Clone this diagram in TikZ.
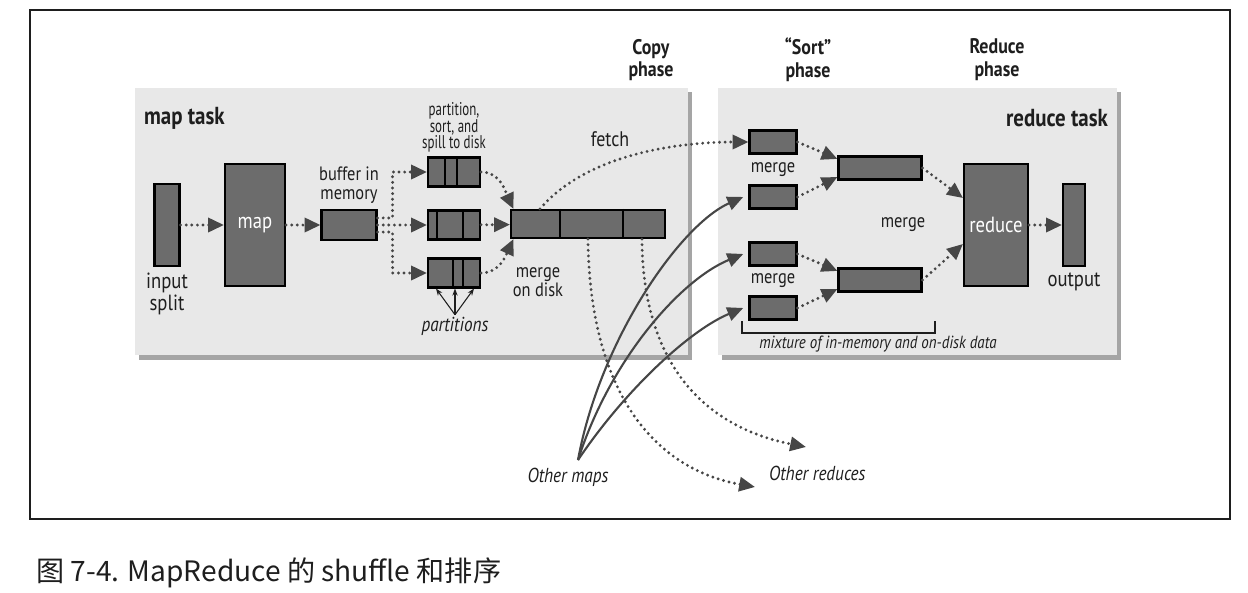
\documentclass[tikz,border=0pt]{standalone}
\usepackage{fontspec}
\setmainfont{PT Sans}[FakeStretch=0.85]
\newfontfamily\cjk{Noto Sans CJK SC}
\usepackage{xcolor}
\usetikzlibrary{positioning,arrows.meta}

\definecolor{ink}{RGB}{30,30,30}
\definecolor{boxgray}{RGB}{108,108,108}
\definecolor{linegray}{RGB}{70,70,70}
\definecolor{panelgray}{RGB}{232,232,232}
\definecolor{shadowgray}{RGB}{165,165,165}

\begin{document}
\begin{tikzpicture}[
    x=0.02cm, y=-0.02cm,
    blk/.style 2 args={
      draw=black, line width=1.2pt, fill=boxgray,
      minimum width=#1*0.2mm, minimum height=#2*0.2mm, inner sep=0pt
    },
    txt/.style={font=\fontsize{11}{11}\selectfont, text=ink, align=center, inner sep=1pt},
    big/.style={font=\fontsize{12.5}{12.5}\selectfont},
    ital/.style={font=\fontsize{11.5}{11.5}\selectfont\itshape},
    head/.style={font=\fontsize{12}{13}\selectfont\bfseries, text=ink, align=center, inner sep=1pt},
    dots/.style={
      draw=linegray, line width=1.8pt, dash pattern=on 0pt off 3.2pt, line cap=round,
      -{Triangle[length=9pt,width=8pt]}
    },
    feed/.style={draw=linegray, line width=1.2pt, -{Triangle[length=9pt,width=8pt]}},
    tip/.style={draw=ink, line width=0.6pt, -{Stealth[length=4pt,width=3pt]}}
]

  \useasboundingbox (0,0) rectangle (1248,592);

  % frame and the two task panels
  \draw[ink, line width=1.2pt] (30,10) rectangle (1230,519);
  \fill[shadowgray] (139,92) rectangle (692,360);
  \fill[panelgray] (135,88) rectangle (688,355);
  \fill[shadowgray] (722,92) rectangle (1121,360);
  \fill[panelgray] (718,88) rectangle (1117,355);

  % phase headings
  \node[head] (copyh) at (651,60) {Copy\\phase};
  \node[head] (sorth) at (808,60) {“Sort”\\phase};
  \node[head] (redh) at (997,60) {Reduce\\phase};
  \node[head, font=\fontsize{14}{15}\selectfont\bfseries, anchor=west] (maptask) at (142,118) {map task};
  \node[head, font=\fontsize{14}{15}\selectfont\bfseries, anchor=east] (redtask) at (1110,118) {reduce task};

  % map side
  \node[blk={25}{82}] (inp) at (167,225) {};
  \node[txt, big, below=2pt of inp] (inpl) {input\\split};
  \node[blk={60}{122}, text=white, big] (map) at (255,225) {map};
  \node[blk={55}{30}] (buf) at (349,225) {};
  \node[txt, above=2pt of buf] (bufl) {buffer in\\memory};

  \foreach \y [count=\i] in {172,225,273}
    \node[blk={52}{29}] (s\i) at (454,\y) {};
  \foreach \n/\x in {1/445,1/457,2/437,2/463,3/453,3/463}
    \draw[line width=1.2pt] (\x,0 |- s\n.north) -- (\x,0 |- s\n.south);
  \node[txt, font=\fontsize{10.5}{9.6}\selectfont\addfontfeatures{FakeStretch=0.7}, above=1pt of s1] (spilll) {partition,\\sort, and\\spill to disk};

  \node[txt, ital] (parts) at (455,326) {partitions};
  \foreach \x in {436,455,474}
    \draw[tip] (parts.north) -- (\x,0 |- s3.south);

  \node[blk={154}{28}] (mrg) at (588,224) {};
  \foreach \x in {560,623}
    \draw[line width=1.2pt] (\x,0 |- mrg.north) -- (\x,0 |- mrg.south);
  \node[txt] (mrgl) at (538,282) {merge\\on disk};
  \node[txt, font=\fontsize{12}{12}\selectfont] (fetchl) at (610,139) {fetch};

  % reduce side
  \foreach \y [count=\i] in {142,197,254,308}
    \node[blk={47}{23}] (r\i) at (773,\y) {};
  \node[txt] (mg1) at (773,170) {merge};
  \node[txt] (mg2) at (773,281) {merge};
  \node[blk={83}{23}] (m1) at (880,168) {};
  \node[blk={83}{23}] (m2) at (880,280) {};
  \node[txt] (mg3) at (903,225) {merge};
  \node[blk={64}{122}, text=white, big] (red) at (996,225) {reduce};
  \node[blk={22}{82}] (out) at (1074,225) {};
  \node[txt, big, below=2pt of out] (outl) {output};

  \draw[ink, line width=0.6pt] (742,321) -- (742,333) -- (935,333) -- (935,321);
  \node[txt, font=\fontsize{10}{10}\selectfont\itshape] (mix) at (878,344) {mixture of in-memory and on-disk data};

  % other tasks
  \coordinate (om) at (578,460);
  \node[txt, ital] (oml) at (568,477) {Other maps};
  \coordinate (or1) at (755,487);
  \coordinate (or2) at (806,447);
  \node[txt, ital, anchor=west] (orl) at (767,473) {Other reduces};

  % connections on the map side
  \draw[dots] (inp) -- (map);
  \draw[dots] (map) -- (buf);
  \draw[dots] (buf) -- (s2);
  \draw[dots] ([yshift=4pt]buf.east) -- ++(15,0) |- (s1.west);
  \draw[dots] ([yshift=-4pt]buf.east) -- ++(15,0) |- (s3.west);
  \draw[dots] (s1.east) to[out=0,in=115] ([xshift=2pt]mrg.north west);
  \draw[dots] (s2) -- (mrg);
  \draw[dots] (s3.east) to[out=0,in=-115] ([xshift=2pt]mrg.south west);

  % fetch and the copies to other reduces
  \draw[dots] ([xshift=30*0.2mm]mrg.north west) .. controls (590,150) and (690,142) .. (r1.west);
  \draw[dots] ([xshift=78*0.2mm]mrg.south west) .. controls (590,400) and (660,470) .. (or1);
  \draw[dots] ([xshift=132*0.2mm]mrg.south west) .. controls (643,380) and (720,430) .. (or2);

  % connections from other maps
  \draw[feed] (om) .. controls (600,340) and (680,225) .. ([xshift=-3pt]r2.west);
  \draw[feed] (om) .. controls (610,360) and (680,280) .. ([xshift=-3pt]r3.west);
  \draw[feed] (om) .. controls (625,390) and (690,330) .. ([xshift=-3pt]r4.west);

  % merges on the reduce side
  \draw[dots] (r1.east) -- ([yshift=-2pt]m1.north west);
  \draw[dots] (r2.east) -- ([yshift=2pt]m1.south west);
  \draw[dots] (r3.east) -- ([yshift=-2pt]m2.north west);
  \draw[dots] (r4.east) -- ([yshift=2pt]m2.south west);
  \draw[dots] (m1.east) -- ([yshift=0.54cm]red.west);
  \draw[dots] (m2.east) -- ([yshift=-0.38cm]red.west);
  \draw[dots] (red) -- (out);

  % caption
  \node[anchor=west, font=\cjk\fontsize{16}{17}\selectfont, text=ink, inner sep=0pt] (cap) at (36,573) {图 7-4. MapReduce 的 shuffle 和排序};

\end{tikzpicture}
\end{document}
